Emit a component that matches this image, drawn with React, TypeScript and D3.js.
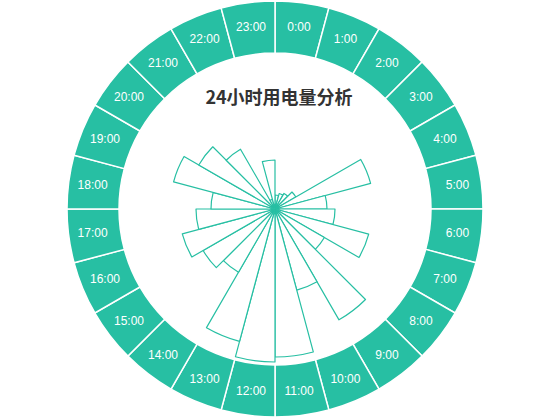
import * as d3 from 'd3'
import React, { useRef, useEffect } from 'react'

const hours = [
  '0:00', '1:00', '2:00', '3:00', '4:00', '5:00', '6:00', '7:00',
  '8:00', '9:00', '10:00', '11:00', '12:00', '13:00', '14:00', '15:00',
  '16:00', '17:00', '18:00', '19:00', '20:00', '21:00', '22:00', '23:00',
]
const usage = [
  14, 16, 18, 24, 99, 52, 60, 97,
  57, 128, 84, 148, 153, 137, 73, 83,
  96, 79, 64, 105, 88, 69, 10, 49,
]
const title = '24小时用电量分析'

const WIDTH = 550
const HEIGHT = 420
const TEAL = '#27bfa3'

export default function App() {
  const svgRef = useRef(null)

  function renderChart() {
    const svg = d3.select(svgRef.current)
    svg.selectAll('*').remove()
    svg.attr('width', WIDTH).attr('height', HEIGHT)

    const cx = 275
    const cy = 209
    const ringInner = 156
    const ringOuter = 208
    const roseMax = 153

    const g = svg.append('g').attr('transform', `translate(${cx},${cy})`)

    const angle = d3
      .scaleBand<string>()
      .domain(hours)
      .range([0, 2 * Math.PI])

    const radius = d3
      .scaleLinear()
      .domain([0, d3.max(usage)!])
      .range([0, roseMax])

    // outer ring with hour labels
    const ringArc = d3
      .arc<string>()
      .innerRadius(ringInner)
      .outerRadius(ringOuter)
      .startAngle((d) => angle(d)!)
      .endAngle((d) => angle(d)! + angle.bandwidth())

    const ring = g.selectAll('g.seg').data(hours).join('g').attr('class', 'seg')

    ring
      .append('path')
      .attr('d', (d) => ringArc(d))
      .attr('fill', TEAL)
      .attr('stroke', '#fff')
      .attr('stroke-width', 1.5)

    const labelR = (ringInner + ringOuter) / 2 + 2
    ring
      .append('text')
      .text((d) => d)
      .attr('x', (d) => labelR * Math.sin(angle(d)! + angle.bandwidth() / 2))
      .attr('y', (d) => -labelR * Math.cos(angle(d)! + angle.bandwidth() / 2))
      .attr('text-anchor', 'middle')
      .attr('dominant-baseline', 'central')
      .attr('font-family', '"Liberation Sans", Arial, sans-serif')
      .attr('font-size', '12px')
      .attr('fill', '#fff')

    // rose wedges
    const roseArc = d3
      .arc<number>()
      .innerRadius(0)
      .outerRadius((d) => radius(d))
      .startAngle((_, i) => angle(hours[i])!)
      .endAngle((_, i) => angle(hours[i])! + angle.bandwidth())

    g.selectAll('path.rose')
      .data(usage)
      .join('path')
      .attr('class', 'rose')
      .attr('d', (d, i) => roseArc(d, i))
      .attr('fill', '#fff')
      .attr('stroke', TEAL)
      .attr('stroke-width', 1.2)
      .attr('stroke-linejoin', 'round')

    svg
      .append('text')
      .text(title)
      .attr('x', 279)
      .attr('y', 104)
      .attr('text-anchor', 'middle')
      .attr('font-family', '"Noto Sans CJK SC", "Noto Sans", sans-serif')
      .attr('font-weight', 'bold')
      .attr('font-size', '18px')
      .attr('fill', '#333')
  }

  useEffect(() => {
    renderChart()
  }, [])

  return (
    <div>
      <svg ref={svgRef} style={{ position: 'absolute', left: 0, top: 0 }} />
    </div>
  )
}
